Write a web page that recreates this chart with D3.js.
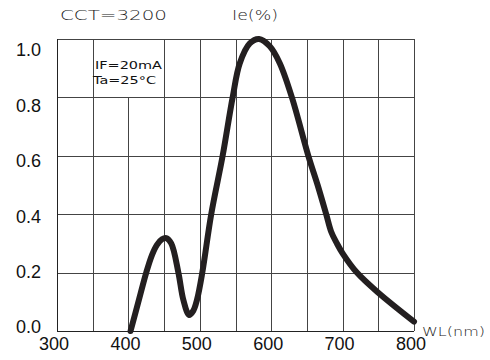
<!DOCTYPE html>
<html><head><meta charset="utf-8">
<script src="https://cdn.jsdelivr.net/npm/d3@7"></script>
<style>body{margin:0;background:#fff}</style>
</head><body><svg id="c" width="490" height="360"></svg>
<script>
const wavelength = [403,414,425,433,440,447,453,460,470,477,485,491,496,503.5,516,532,546,556,570,583,598,612,629,652,665,677,684,692,700,720,750,800];
const intensity  = [0.0,0.1,0.2,0.26,0.295,0.314,0.318,0.3,0.2,0.106,0.055,0.07,0.106,0.2,0.4,0.6,0.8,0.917,0.985,1.0,0.975,0.917,0.8,0.6,0.5,0.4,0.34,0.3,0.266,0.2,0.131,0.032];
const xTicks = [300,400,500,600,700,800];
const xGrid = [350,400,450,500,550,600,650,700,750,800];
const yTicks = [0.0,0.2,0.4,0.6,0.8,1.0];

const svg = d3.select("#c");
const x = d3.scaleLinear().domain([300,800]).range([57,414]);
const y = d3.scaleLinear().domain([0,1]).range([331,39]);
const yLab = d3.scaleLinear().domain([0,1]).range([327,50]);
const gridColor = "#444";

svg.append("g").selectAll("line").data(yTicks).join("line")
  .attr("x1", x(300)).attr("x2", x(800))
  .attr("y1", d => Math.round(y(d))+0.5).attr("y2", d => Math.round(y(d))+0.5)
  .attr("stroke", gridColor).attr("stroke-width", 1);
svg.append("g").selectAll("line").data(xGrid).join("line")
  .attr("x1", d => Math.round(x(d))+0.5).attr("x2", d => Math.round(x(d))+0.5)
  .attr("y1", d => d === 400 ? Math.round(y(0.8)) : y(1)).attr("y2", y(0))
  .attr("stroke", gridColor).attr("stroke-width", 1);
svg.append("line").attr("x1", Math.round(x(300))+0.5).attr("x2", Math.round(x(300))+0.5)
  .attr("y1", y(1)).attr("y2", y(0)).attr("stroke", "#222").attr("stroke-width", 1);
svg.append("line").attr("x1", x(300)).attr("x2", x(800))
  .attr("y1", Math.round(y(0))+0.5).attr("y2", Math.round(y(0))+0.5).attr("stroke", "#222");

svg.append("g").selectAll("text").data(yTicks).join("text")
  .attr("x", 41).attr("y", d => yLab(d)).attr("dy", "0.36em")
  .attr("text-anchor", "end").attr("font-family", "Liberation Sans, Arial, sans-serif")
  .attr("font-size", 18).attr("fill", "#111").text(d => d.toFixed(1));
svg.append("g").selectAll("text").data(xTicks).join("text")
  .attr("x", d => x(d) - 3).attr("y", 350)
  .attr("text-anchor", "middle").attr("font-family", "Liberation Sans, Arial, sans-serif")
  .attr("font-size", 18).attr("fill", "#111").text(d => d);

const line = d3.line().x((d,i) => x(wavelength[i])).y(d => y(d)).curve(d3.curveCatmullRom.alpha(0.5));
svg.append("path").datum(intensity).attr("d", line)
  .attr("fill", "none").attr("stroke", "#231f20").attr("stroke-width", 6)
  .attr("stroke-linecap", "round").attr("stroke-linejoin", "round");

const thin = "DejaVu Sans, sans-serif";
function txt(s, xx, yy, size, len, weight, col) {
  const t = svg.append("text").attr("x", xx).attr("y", yy).attr("font-family", thin)
    .attr("font-size", size).attr("fill", col || "#222").attr("font-weight", weight || 200).text(s);
  if (len) t.attr("textLength", len).attr("lengthAdjust", "spacingAndGlyphs");
  return t;
}
txt("CCT=3200", 60, 20, 14, 107);
txt("Ie(%)", 232, 20, 14, 46);
txt("IF=20mA", 95, 69, 10, 67, 400, "#111");
txt("Ta=25°C", 93, 84, 10, 63, 400, "#111");
txt("WL(nm)", 422, 336, 12, 63);
</script></body></html>
